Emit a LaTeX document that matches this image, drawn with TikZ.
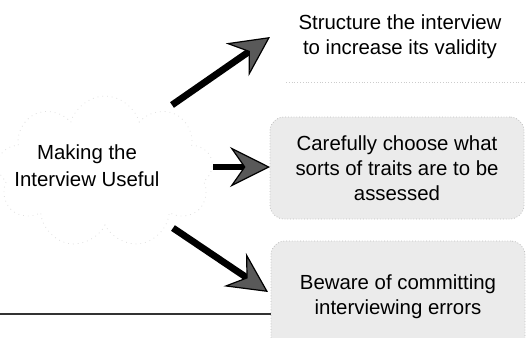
\documentclass[tikz,border=0pt]{standalone}
\usepackage{fontspec}
\setmainfont{Liberation Sans}
\usetikzlibrary{arrows.meta,shapes.symbols}

\begin{document}
\begin{tikzpicture}[x=0.5pt,y=-0.5pt,
    idea/.style={align=center,font=\fontsize{10.2}{12.4}\selectfont},
    panel/.style={idea,draw=gray!50,densely dotted,fill=gray!16,rounded corners=7pt,
      minimum width=127pt,inner sep=0pt},
    bigarrow/.style={line width=3.4pt,
      -{Stealth[length=20pt,width=20pt,inset=7pt,fill=black!65,line width=0.6pt]}}]
    \useasboundingbox (0,0) rectangle (526,338);
    % faint cloud round the topic
    \node[cloud,cloud puffs=9,draw=gray!25,dotted,
      minimum width=108pt,minimum height=76pt] (cloud) at (105,172) {};
    \node[idea,font=\fontsize{10.2}{13.5}\selectfont] (topic) at (87,166) {Making the\\Interview Useful};
    % the three points
    \node[idea] (structure) at (400,37) {Structure the interview\\to increase its validity};
    \draw[gray!40,densely dotted] (286,82) -- (526,82);
    \node[panel,minimum height=51pt] (traits) at (397,168) {Carefully choose what\\sorts of traits are to be\\assessed};
    \node[panel,minimum height=56pt] (errors) at (398,297) {Beware of committing\\interviewing errors};
    \draw[black!80,line width=0.6pt] (0,314) -- (errors.west |- 0,314);
    % arrows
    \coordinate (s1) at (172,105);
    \coordinate (e1) at (270,37);
    \coordinate (s2) at (213,167);
    \coordinate (e2) at (270,167);
    \coordinate (s3) at (173,228);
    \coordinate (e3) at (268,292);
    \draw[bigarrow] (s1) -- (e1);
    \draw[bigarrow] (s2) -- (e2);
    \draw[bigarrow] (s3) -- (e3);
\end{tikzpicture}
\end{document}
